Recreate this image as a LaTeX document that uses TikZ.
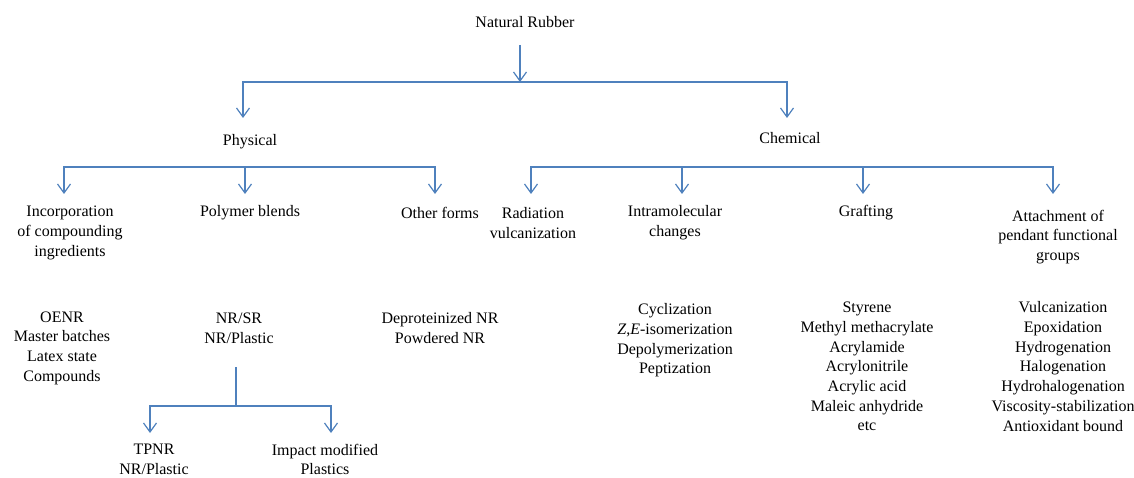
\documentclass[tikz,border=0pt]{standalone}
\usepackage{fontspec}
\setmainfont{Liberation Serif}
\usetikzlibrary{arrows.meta}

\definecolor{linkblue}{RGB}{79,129,189}

\begin{document}
\begin{tikzpicture}[x=1pt,y=-1pt,
    label/.style={inner sep=0pt, align=center, font=\fontsize{16}{19.7}\selectfont},
    link/.style={draw=linkblue, line width=1.2pt},
    flow/.style={link, -{Straight Barb[length=9pt,width=13pt,line width=1.2pt]}}]
  \useasboundingbox (0,0) rectangle (1134,478);

  % level 0 and the two main classes
  \node[label] (nr)    at (525,22)  {Natural Rubber};
  \node[label] (phys)  at (250,142) {Physical};
  \node[label] (chem)  at (790,138) {Chemical};

  % physical modifications
  \node[label] (inc)    at (70,233)  {Incorporation\\of compounding\\ingredients};
  \node[label] (blend)  at (250,213) {Polymer blends};
  \node[label] (other)  at (440,213) {Other forms};
  \node[label] (oenr)   at (62,348)  {OENR\\Master batches\\Latex state\\Compounds};
  \node[label] (nrsr)   at (239,328) {NR/SR\\NR/Plastic};
  \node[label] (deprot) at (440,328) {Deproteinized NR\\Powdered NR};
  \node[label] (tpnr)   at (154,459.5) {TPNR\\NR/Plastic};
  \node[label] (impact) at (325,459.5) {Impact modified\\Plastics};

  % chemical modifications
  \node[label] (rad)    at (533,223) {Radiation\\vulcanization};
  \node[label] (intra)  at (675,223) {Intramolecular\\changes};
  \node[label] (graft)  at (866,213) {Grafting};
  \node[label] (attach) at (1058,237) {Attachment of\\pendant functional\\groups};
  \node[label] (cycl)   at (675,340.5) {Cyclization\\\textit{Z},\textit{E}-isomerization\\Depolymerization\\Peptization};
  \node[label] (styr)   at (867,366.5) {Styrene\\Methyl methacrylate\\Acrylamide\\Acrylonitrile\\Acrylic acid\\Maleic anhydride\\etc};
  \node[label] (vulc)   at (1063,366.5) {Vulcanization\\Epoxidation\\Hydrogenation\\Halogenation\\Hydrohalogenation\\Viscosity-stabilization\\Antioxidant bound};

  % connector points
  \coordinate (nrStem) at (520,45);
  \coordinate (topBus) at (520,82);
  \coordinate (physTip) at (243,118);
  \coordinate (chemTip) at (787,118);

  \coordinate (pBus)     at (245,167);
  \coordinate (incTip)   at (64,194);
  \coordinate (blendTip) at (245,194);
  \coordinate (otherTip) at (435,194);

  \coordinate (cBus)      at (682,167);
  \coordinate (radTip)    at (531,194);
  \coordinate (intraTip)  at (682,194);
  \coordinate (graftTip)  at (863,194);
  \coordinate (attachTip) at (1053,194);

  \coordinate (subStem) at (236,367);
  \coordinate (subBus)  at (236,406);
  \coordinate (tpnrTip)   at (150,433);
  \coordinate (impactTip) at (331,433);

  % Natural Rubber -> Physical / Chemical
  \draw[flow] (nrStem) -- (topBus);
  \draw[flow] (topBus) -| (physTip);
  \draw[flow] (topBus) -| (chemTip);

  % Physical branches
  \draw[flow] (pBus) -| (incTip);
  \draw[flow] (pBus) -- (blendTip);
  \draw[flow] (pBus) -| (otherTip);

  % Chemical branches
  \draw[flow] (cBus) -| (radTip);
  \draw[flow] (cBus) -- (intraTip);
  \draw[flow] (cBus) -| (graftTip);
  \draw[flow] (cBus) -| (attachTip);

  % blends sub-branches
  \draw[link] (subStem) -- (subBus);
  \draw[flow] (subBus) -| (tpnrTip);
  \draw[flow] (subBus) -| (impactTip);
\end{tikzpicture}
\end{document}
